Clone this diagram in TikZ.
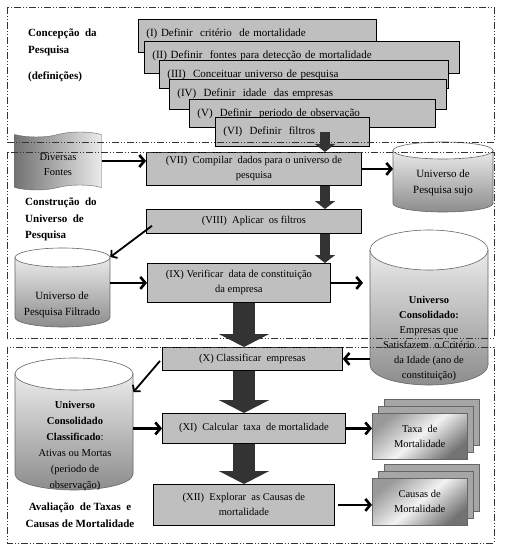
\documentclass[tikz,border=0pt]{standalone}
\usepackage{fontspec}
\setmainfont{Liberation Serif}
\usetikzlibrary{arrows.meta}
\usetikzlibrary{shapes.symbols}
\usetikzlibrary{shadows}
% cylinder: name, x, y, width, height, ellipse radius
\newcommand{\dbcyl}[6]{%
\shade[cylshade] (#2,#3+#6) -- (#2,#3+#5-#6) arc[start angle=180,end angle=0,x radius=#4/2,y radius=#6] -- (#2+#4,#3+#6) -- cycle;
\draw[cylline,fill=white] (#2+#4/2,#3+#6) ellipse[x radius=#4/2,y radius=#6];
\node[cylframe,minimum width=#4,minimum height=#5] (#1) at (#2,#3) {};
}
\begin{document}
\begin{tikzpicture}[x=1pt,y=-1pt,
  every node/.style={font=\fontsize{10.5}{15}\selectfont},
  stepbox/.style={draw,line width=0.8pt,fill=black!25,inner xsep=8pt,inner ysep=0pt,align=left,text height=17pt,anchor=north west,font=\fontsize{11}{15}\selectfont},
  procbox/.style={draw,line width=0.8pt,fill=black!25,align=center,inner sep=1pt,anchor=north west},
  cylshade/.style={top color=black!8,bottom color=black!45,draw=black!60,line width=0.6pt},
  cylline/.style={draw=black!60,line width=0.6pt},
  cylframe/.style={inner sep=0pt,anchor=north west},
  cyltext/.style={align=center,inner sep=0pt},
  docstack/.style={draw=black!60,anchor=north west,align=center,inner sep=0pt,
    top color=black!40,bottom color=black!55,middle color=black!5,shading angle=40,
    double copy shadow={shadow xshift=6pt,shadow yshift=7pt,fill=black!35,draw=black!60}},
  phase/.style={draw=black!80,line width=0.6pt,dash pattern=on 7pt off 2pt on 1pt off 2pt on 1pt off 2pt},
  sectlabel/.style={font=\fontsize{11}{16.5}\selectfont\bfseries,align=left,inner sep=0pt,anchor=north west},
  flow/.style={line width=2.6pt,-{Straight Barb[length=5pt,width=12pt]}},
  thinflow/.style={line width=1.8pt,-{Straight Barb[length=4pt,width=10pt]}},
  darkflow/.style={black!80,line width=10pt,-{Triangle[length=8pt,width=20pt]}},
  bigflow/.style={black!80,line width=22pt,-{Triangle[length=13pt,width=50pt]}}]
\useasboundingbox (0,0) rectangle (504,553);
% definition steps
\node[stepbox,text width=222pt,text depth=16pt] (s1) at (138,19) {(I) Definir~ critério~ de mortalidade};
\node[stepbox,text width=299pt,text depth=15pt] (s2) at (144,41) {(II) Definir~ fontes para detecção de mortalidade};
\node[stepbox,text width=273pt,text depth=11pt] (s3) at (159,60) {(III)~ Conceituar universo de pesquisa};
\node[stepbox,text width=261pt,text depth=13pt] (s4) at (169,79) {(IV)~ Definir~ idade~ das empresas};
\node[stepbox,text width=230pt,text depth=11pt] (s5) at (189,99) {(V)~ Definir~ periodo de observação};
\node[stepbox,text width=138pt,text depth=12pt] (s6) at (215,117) {(VI)~ Definir~ filtros};
% process steps
\node[procbox,minimum width=215pt,minimum height=33pt] (s7) at (146,152) {(VII)~ Compilar~ dados para o universo de\\pesquisa};
\node[procbox,minimum width=215pt,minimum height=24pt] (s8) at (146,209) {(VIII)~ Aplicar~ os filtros};
\node[procbox,minimum width=183pt,minimum height=39pt] (s9) at (147,263) {(IX) Verificar~ data de constituição\\da empresa};
\node[procbox,minimum width=180pt,minimum height=23pt] (s10) at (162,347) {(X) Classificar~ empresas};
\node[procbox,minimum width=183pt,minimum height=30pt] (s11) at (162,413) {(XI)~ Calcular~ taxa~ de mortalidade};
\node[procbox,minimum width=181pt,minimum height=41pt] (s12) at (153,484) {(XII)~ Explorar~ as Causas de\\mortalidade};
% data stores
\node[tape,draw=black!60,left color=black!55,right color=black!8,minimum width=87pt,minimum height=58pt,inner sep=0pt] (fontes) at (58,161) {};
\node[cyltext] (fontestxt) at (58,165) {Diversas\\Fontes};
\dbcyl{sujo}{393}{142}{100}{70}{8.5}
\node[cyltext,font=\fontsize{11}{16}\selectfont] (sujotxt) at (443,183) {Universo de\\Pesquisa sujo};
\dbcyl{filt}{15}{248}{95}{79}{9.5}
\node[cyltext,font=\fontsize{11}{16}\selectfont] (filttxt) at (62,305) {Universo de\\Pesquisa Filtrado};
\dbcyl{cons}{370}{230}{118}{155}{20}
\node[cyltext] (constxt) at (429,338) {\textbf{Universo}\\\textbf{Consolidado:}\\Empresas que\\Satisfazem~ o Critério\\da Idade (ano de\\constituição)};
\dbcyl{clas}{15}{358}{118}{132}{16}
\node[cyltext,font=\fontsize{10.5}{16}\selectfont] (clastxt) at (75,446) {\textbf{Universo}\\\textbf{Consolidado}\\\textbf{Classificado}:\\Ativas ou Mortas\\(periodo de\\observação)};
\node[docstack,minimum width=95pt,minimum height=46pt] (taxa) at (372,413) {Taxa~ de\\Mortalidade};
\node[docstack,minimum width=95pt,minimum height=47pt] (causas) at (372,478) {Causas de\\Mortalidade};
% section labels
\node[sectlabel] (lab1) at (28,29) {Concepção~ da\\Pesquisa\\[10pt](definições)};
\node[sectlabel] (lab2) at (25,198) {Construção~ do\\Universo~ de\\Pesquisa};
\node[sectlabel,align=center,anchor=center] (lab3) at (80,515) {Avaliação~ de Taxas~ e\\Causas de Mortalidade};
% connectors
\coordinate (ax) at (325,0);
\coordinate (bx) at (244,0);
\draw[darkflow] (ax |- s6.center) -- (ax |- s7.north);
\draw[darkflow] (ax |- s7.south) -- (ax |- s8.north);
\draw[darkflow] (ax |- s8.south) -- (ax |- s9.north);
\draw[bigflow] (bx |- s9.south) -- (bx |- s10.north);
\draw[bigflow] (bx |- s10.south) -- (bx |- s11.north);
\draw[bigflow] (bx |- s11.south) -- (bx |- s12.north);
\draw[flow] (fontes.east) -- (fontes.east -| s7.west);
\draw[flow] (s7.east) -- (s7.east -| sujo.west);
\draw[thinflow] ([shift={(6,-8)}]s8.south west) -- ([yshift=-9pt]filt.north east);
\draw[flow] (filt.east |- s9.west) -- (s9.west);
\draw[flow,shorten >=7pt] (s9.east) -- (s9.east -| cons.west);
\draw[flow] (cons.west |- s10.east) -- (s10.east);
\draw[thinflow] ([shift={(-2,2)}]s10.west) -- ([yshift=-34pt]clas.north east);
\draw[flow] (clas.east |- s11.west) -- (s11.west);
\draw[flow] (s11.east) -- (s11.east -| taxa.west);
\draw[flow] ([xshift=3pt]s12.east) -- (s12.east -| causas.west);
% phases
\draw[phase] (7,7) rectangle (494,142);
\draw[phase] (7,152) rectangle (494,338);
\draw[phase] (7,347) rectangle (494,543);
\end{tikzpicture}
\end{document}
